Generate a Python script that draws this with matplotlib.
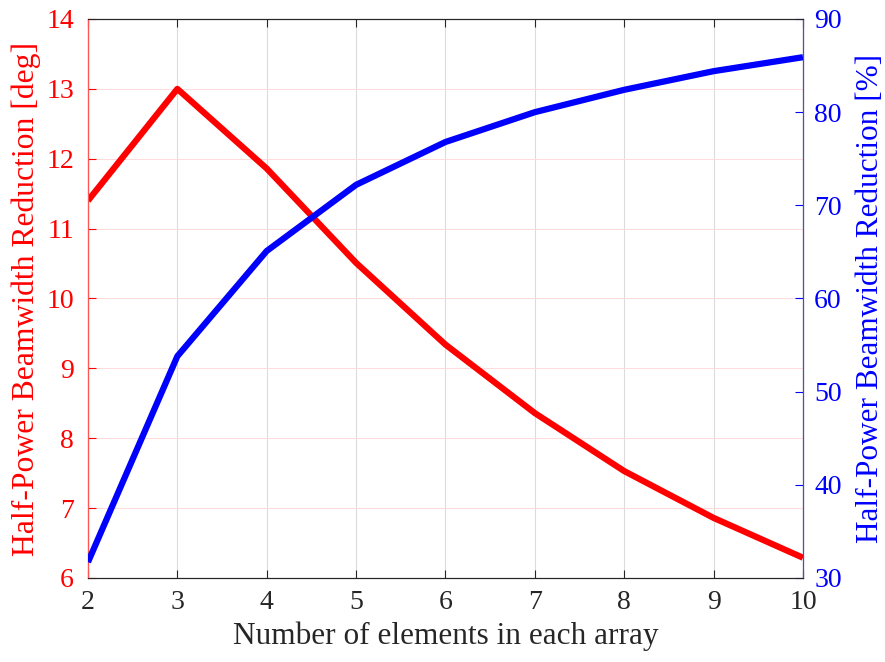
import numpy as np
import matplotlib.pyplot as plt

plt.rcParams['font.family'] = ['Liberation Serif', 'DejaVu Serif']
plt.rcParams['mathtext.fontset'] = 'stix'

n_elements = [2, 3, 4, 5, 6, 7, 8, 9, 10]
hpbw_deg = [11.4, 13.0, 11.86, 10.51, 9.34, 8.36, 7.53, 6.86, 6.29]
hpbw_pct = [31.7, 53.8, 65.1, 72.2, 76.8, 80.0, 82.4, 84.4, 85.9]

fig = plt.figure(figsize=(8.85, 6.62), dpi=100)
ax1 = fig.add_axes([0.0994, 0.1269, 0.8079, 0.8444])
ax2 = ax1.twinx()

ax1.plot(n_elements, hpbw_deg, color='#ff0000', lw=4.5, solid_capstyle='butt', zorder=3)
ax2.plot(n_elements, hpbw_pct, color='#0000ff', lw=4.5, solid_capstyle='butt', zorder=3)

ax1.set_xlim(2, 10)
ax1.set_ylim(6, 14)
ax2.set_ylim(30, 90)
ax1.set_xticks(range(2, 11))
ax1.set_yticks(range(6, 15))
ax2.set_yticks(range(30, 91, 10))

ax1.grid(axis='x', color='#dcdcdc', lw=0.8)
ax1.grid(axis='y', color='#ffdcdc', lw=0.8)
ax1.set_axisbelow(True)

ax1.tick_params(axis='x', direction='in', top=True, length=6, colors='#262626',
                labelsize=20, pad=9)
ax1.tick_params(axis='y', direction='in', length=6, colors='#ff0000', labelsize=20, pad=10)
ax2.tick_params(axis='y', direction='in', length=6, colors='#0000ff', labelsize=20, pad=8)

for sp in ['top', 'bottom']:
    ax1.spines[sp].set_color('#262626')
    ax2.spines[sp].set_color('#262626')
ax2.spines['left'].set_color('#ff5555')
ax2.spines['right'].set_color('#4444ff')

ax1.set_xlabel('Number of elements in each array', fontsize=22.5, color='#262626', labelpad=4)
ax1.set_ylabel('Half-Power Beamwidth Reduction [deg]', fontsize=22.8, color='#ff0000', labelpad=4)
ax2.set_ylabel('Half-Power Beamwidth Reduction [%]', fontsize=22.5, color='#0000ff', labelpad=10)

fig.savefig('out.png', dpi=100)
